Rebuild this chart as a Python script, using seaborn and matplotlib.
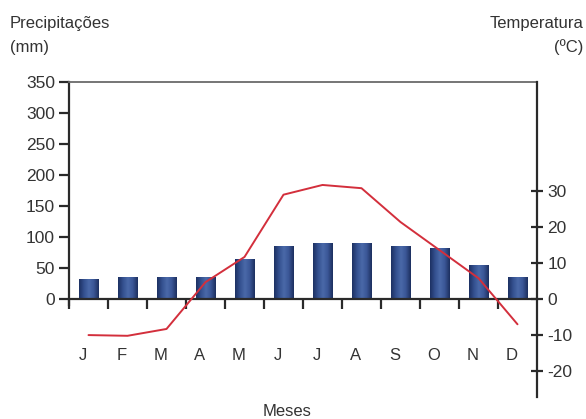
import numpy as np
import pandas as pd
import matplotlib
matplotlib.use("Agg")
import matplotlib.pyplot as plt
import matplotlib.transforms as mtransforms
from matplotlib.colors import LinearSegmentedColormap
import seaborn as sns

months = ["J", "F", "M", "A", "M", "J", "J", "A", "S", "O", "N", "D"]
precip_mm = [32, 35, 35, 35, 64, 85, 90, 90, 85, 83, 55, 35]
temp_c = [-10.0, -10.2, -8.3, 4.7, 11.7, 29.0, 31.7, 30.8, 21.4, 13.6, 5.8, -7.0]
precip_ticks = [0, 50, 100, 150, 200, 250, 300, 350]
temp_ticks = [-20, -10, 0, 10, 20, 30]

sns.set_theme(style="white")
plt.rcParams["font.family"] = ["Liberation Sans", "DejaVu Sans"]

W, H = 586, 419
fig = plt.figure(figsize=(W / 100, H / 100), dpi=100)
ax = fig.add_axes([69 / W, 1 - 397 / H, 468 / W, 315 / H])

df = pd.DataFrame({"pos": np.arange(len(months)), "mm": precip_mm})
sns.barplot(data=df, x="pos", y="mm", ax=ax, color="#2f4b88", width=0.5,
            saturation=1, edgecolor="#1d3060", linewidth=0.5, native_scale=True)

# cylinder-like shading on each bar (clipped to the bar patch)
shade = LinearSegmentedColormap.from_list(
    "barshade", ["#1d3163", "#34508f", "#4a69a9", "#3a5696", "#1c2f5f"])
grad = np.linspace(0, 1, 64).reshape(1, -1)
for p in list(ax.patches):
    x0, y0 = p.get_x(), p.get_y()
    w, h = p.get_width(), p.get_height()
    im = ax.imshow(grad, cmap=shade, aspect="auto", extent=(x0, x0 + w, y0, y0 + h),
                   zorder=p.get_zorder() + 0.1, interpolation="bilinear")
    im.set_clip_path(p)

txt = "#333333"
ax.set_xlim(-0.5, 11.5)
ax.set_ylim(-158.1, 350)
ax.set_xlabel("")
ax.set_ylabel("")
for s in ["left", "bottom", "top", "right"]:
    ax.spines[s].set_color("#2a2a2a")
    ax.spines[s].set_linewidth(1.6)
    ax.spines[s].set_zorder(5)
ax.spines["right"].set_visible(False)
ax.spines["top"].set_color("#6a6a6a")
ax.spines["top"].set_linewidth(1.3)
ax.spines["left"].set_bounds(-10, 350)
ax.spines["bottom"].set_position(("data", 0))
ax.set_yticks(precip_ticks)
ax.set_yticklabels([str(v) for v in precip_ticks])
ax.tick_params(axis="y", direction="out", length=7, width=1.6, color="#2a2a2a",
               labelsize=12.5, labelcolor=txt, pad=3, left=True)
ax.set_xticks(np.arange(len(months)))
ax.set_xticklabels(months)
ax.tick_params(axis="x", which="major", length=0, pad=35, labelsize=12, labelcolor=txt)
shift = mtransforms.ScaledTranslation(-6 / 100, 0, fig.dpi_scale_trans)
for lab in ax.get_xticklabels():
    lab.set_transform(lab.get_transform() + shift)
ax.set_xticks(np.arange(-0.5, 11.0, 1.0), minor=True)
ax.tick_params(axis="x", which="minor", direction="out", length=7, width=1.6,
               color="#2a2a2a", bottom=True)
ax.grid(False)

ax2 = ax.twinx()
sns.lineplot(x=np.arange(len(months)), y=temp_c, ax=ax2, color="#d32f3c",
             linewidth=1.4)
ax2.set_ylim(-27.2, 60.3)
ax2.set_yticks(temp_ticks)
ax2.set_yticklabels([str(v) for v in temp_ticks])
for s in ["left", "bottom", "top"]:
    ax2.spines[s].set_visible(False)
ax2.spines["right"].set_color("#2a2a2a")
ax2.spines["right"].set_linewidth(1.6)
ax2.tick_params(axis="y", direction="inout", length=9, width=1.6, color="#2a2a2a",
                labelsize=12.5, labelcolor=txt, pad=3, right=True)
ax2.grid(False)
ax2.set_ylabel("")

fs_title = 12
fig.text(10 / W, 1 - 28 / H, "Precipitações", ha="left", va="baseline",
         fontsize=fs_title, color=txt)
fig.text(10 / W, 1 - 52 / H, "(mm)", ha="left", va="baseline",
         fontsize=fs_title, color=txt)
fig.text(583 / W, 1 - 28 / H, "Temperatura", ha="right", va="baseline",
         fontsize=fs_title, color=txt)
fig.text(583 / W, 1 - 52 / H, "(ºC)", ha="right", va="baseline",
         fontsize=fs_title, color=txt)
fig.text(287 / W, 1 - 411 / H, "Meses", ha="center", va="center",
         fontsize=12, color=txt)

fig.savefig("out.png", dpi=100)
